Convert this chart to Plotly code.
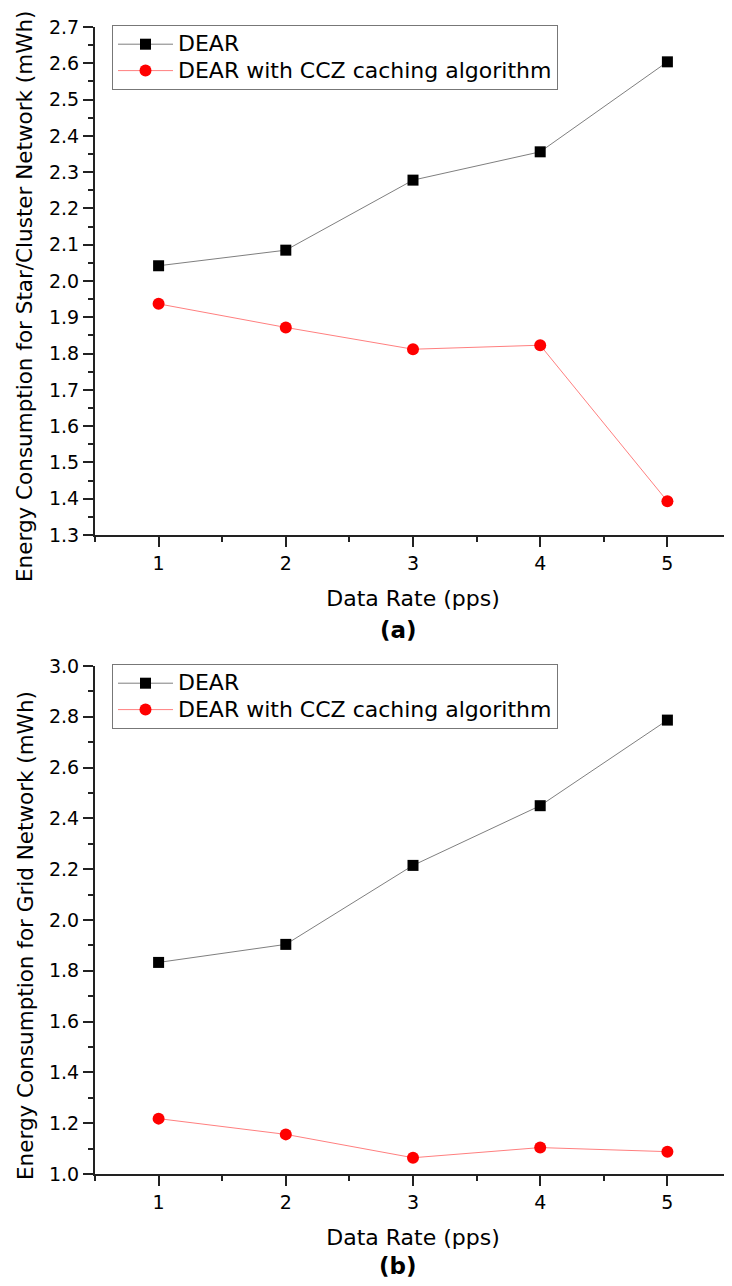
import plotly.graph_objects as go

x_rate = [1, 2, 3, 4, 5]

# (a) Star/Cluster network
star_dear = [2.042, 2.085, 2.278, 2.356, 2.604]
star_ccz = [1.937, 1.872, 1.812, 1.823, 1.393]

# (b) Grid network
grid_dear = [1.833, 1.904, 2.215, 2.450, 2.787]
grid_ccz = [1.218, 1.156, 1.064, 1.104, 1.088]

name_dear = "DEAR"
name_ccz = "DEAR with CCZ caching algorithm"
ytitle_a = "Energy Consumption for Star/Cluster Network (mWh)"
ytitle_b = "Energy Consumption for Grid Network (mWh)"
xtitle = "Data Rate (pps)"

FONT = "DejaVu Sans"
OFF = 8  # page body margin
W, H = 732 - OFF, 1286 - OFF
ML, MR, MT, MB = 95 - OFF, 1, 27 - OFF, 1286 - 1174
plot_w = W - ML - MR
plot_h = H - MT - MB
panel_h = 508 / plot_h


def px(xp):
    return (xp - OFF - ML) / plot_w


def py(yp):
    return 1 - (yp - OFF - MT) / plot_h


def big(s):
    return '<span style="font-size:22px">' + s + '</span>'


fig = go.Figure()


def add_pair(ydear, yccz, xa, ya, leg):
    fig.add_trace(go.Scatter(
        x=x_rate, y=ydear, name=big(name_dear), mode="lines+markers",
        line=dict(color="#7f7f7f", width=1),
        marker=dict(symbol="square", size=11, color="black"),
        xaxis=xa, yaxis=ya, legend=leg))
    fig.add_trace(go.Scatter(
        x=x_rate, y=yccz, name=big(name_ccz), mode="lines+markers",
        line=dict(color="#ff7f7f", width=1),
        marker=dict(symbol="circle", size=12, color="#ff0000"),
        xaxis=xa, yaxis=ya, legend=leg))


add_pair(star_dear, star_ccz, "x", "y", "legend")
add_pair(grid_dear, grid_ccz, "x2", "y2", "legend2")

axis_common = dict(
    showline=True, linecolor="#222222", linewidth=2, mirror=False,
    ticks="outside", ticklen=10, tickwidth=2, tickcolor="#222222",
    showgrid=False, zeroline=False,
    tickfont=dict(family=FONT, size=19, color="black"),
    title_font=dict(family=FONT, size=22, color="black"),
)

xcommon = dict(axis_common, range=[0.5, 5.5], tick0=1, dtick=1,
               minor=dict(tick0=0.5, dtick=0.5, ticks="outside", ticklen=5,
                          tickwidth=2, tickcolor="#222222", showgrid=False),
               ticklabelstandoff=0)

legend_common = dict(xanchor="left", yanchor="top",
                     bordercolor="#777777", borderwidth=1, bgcolor="white",
                     font=dict(family=FONT, size=18, color="black"),
                     itemwidth=55, tracegroupgap=0)

fig.update_layout(
    width=W, height=H,
    margin=dict(l=ML, r=MR, t=MT, b=MB),
    paper_bgcolor="white", plot_bgcolor="white",
    font=dict(family=FONT, color="black"),
    xaxis=dict(xcommon, anchor="y", domain=[0, 1],
               title=dict(text=xtitle, standoff=18)),
    yaxis=dict(axis_common, anchor="x", domain=[1 - panel_h, 1],
               range=[1.3, 2.7], tick0=1.3, dtick=0.1, tickformat=".1f",
               minor=dict(dtick=0.05, ticks="outside", ticklen=5, tickwidth=2,
                          tickcolor="#222222", showgrid=False)),
    xaxis2=dict(xcommon, anchor="y2", domain=[0, 1],
                title=dict(text=xtitle, standoff=18)),
    yaxis2=dict(axis_common, anchor="x2", domain=[0, panel_h],
                range=[1.0, 3.0], tick0=1.0, dtick=0.2, tickformat=".1f",
                minor=dict(dtick=0.1, ticks="outside", ticklen=5, tickwidth=2,
                           tickcolor="#222222", showgrid=False)),
    legend=dict(legend_common, x=px(112), y=py(25)),
    legend2=dict(legend_common, x=px(112), y=py(664)),
    showlegend=True,
)

# rotated y-axis titles
fig.add_annotation(text=ytitle_a, xref="paper", yref="paper",
                   x=px(24), y=py(297), textangle=-90, showarrow=False,
                   xanchor="center", yanchor="middle",
                   font=dict(family=FONT, size=21.5, color="black"))
fig.add_annotation(text=ytitle_b, xref="paper", yref="paper",
                   x=px(25), y=py(936), textangle=-90, showarrow=False,
                   xanchor="center", yanchor="middle",
                   font=dict(family=FONT, size=21.5, color="black"))

fig.add_annotation(text="<b>(a)</b>", xref="paper", yref="paper",
                   x=px(398), y=py(630), showarrow=False,
                   xanchor="center", yanchor="middle",
                   font=dict(family=FONT, size=23, color="black"))
fig.add_annotation(text="<b>(b)</b>", xref="paper", yref="paper",
                   x=px(398), y=py(1266), showarrow=False,
                   xanchor="center", yanchor="middle",
                   font=dict(family=FONT, size=23, color="black"))

fig.write_html("out.html")
